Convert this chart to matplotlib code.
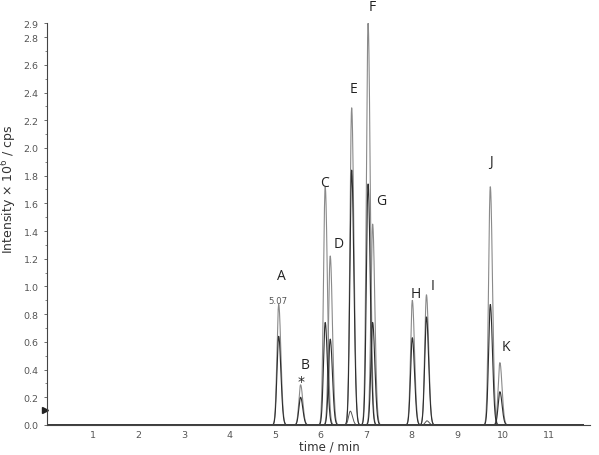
import numpy as np
import matplotlib
matplotlib.use("Agg")
import matplotlib.pyplot as plt

# peak table
labels = ["A", "B", "C", "D", "E", "F", "G", "H", "I", "J", "K"]
rt = [5.08, 5.56, 6.10, 6.21, 6.68, 7.04, 7.14, 8.01, 8.32, 9.72, 9.93]
height_quan = [0.87, 0.29, 1.72, 1.22, 2.29, 2.90, 1.45, 0.90, 0.94, 1.72, 0.45]
height_qual = [0.64, 0.20, 0.74, 0.62, 1.84, 1.74, 0.74, 0.63, 0.78, 0.87, 0.24]

# small side peaks seen on the baseline
minor_rt = [6.65, 8.33]
minor_height = [0.10, 0.03]

# label positions (time, intensity)
label_x = [5.13, 5.66, 6.09, 6.40, 6.73, 7.14, 7.32, 8.08, 8.45, 9.74, 10.07]
label_y = [1.08, 0.44, 1.75, 1.31, 2.43, 3.02, 1.62, 0.95, 1.01, 1.90, 0.57]

t = np.linspace(0, 11.75, 6000)


def peak(center, h, sl=0.038, sr=0.048):
    s = np.where(t < center, sl, sr)
    return h * np.exp(-0.5 * ((t - center) / s) ** 2)


fig = plt.figure(figsize=(5.99, 4.56), dpi=100)
ax = fig.add_axes([0.0785, 0.0658, 0.906, 0.881])

# one trace per compound and ion
for c, h in zip(rt, height_quan):
    ax.plot(t, peak(c, h), color="#8a8a8a", lw=0.8)
for c, h in zip(rt, height_qual):
    ax.plot(t, peak(c, h), color="#2e2e2e", lw=0.8)
for c, h in zip(minor_rt, minor_height):
    ax.plot(t, peak(c, h), color="#555555", lw=0.7)
ax.plot(t, np.zeros_like(t), color="#333333", lw=0.8)

for lab, x, y in zip(labels, label_x, label_y):
    ax.text(x, y, lab, ha="center", va="center", fontsize=10,
            family="Open Sans", color="#222222", clip_on=False)
ax.text(5.07, 0.90, "5.07", ha="center", va="center", fontsize=6.2, color="#555555")
ax.text(5.57, 0.32, "*", ha="center", va="center", fontsize=10, color="#222222")

ax.set_xlim(0, 11.9)
ax.set_ylim(0, 2.9)
ax.set_xticks(range(1, 12))
ax.set_yticks(list(np.round(np.arange(0, 2.81, 0.2), 1)) + [2.9])
ax.set_yticks(np.arange(0, 2.9, 0.1), minor=True)
ax.yaxis.set_major_formatter(matplotlib.ticker.FormatStrFormatter("%.1f"))
ax.tick_params(labelsize=6.8, colors="#555555", length=2.5, width=0.6)
ax.tick_params(which="minor", length=1.5, width=0.5, colors="#555555")
ax.tick_params(axis="x", length=0)
for side in ["top", "right"]:
    ax.spines[side].set_visible(False)
for side in ["left", "bottom"]:
    ax.spines[side].set_color("#444444")
    ax.spines[side].set_linewidth(0.8)

ax.set_xlabel("time / min", fontsize=8.5, color="#333333", labelpad=2)
ax.xaxis.set_label_coords(0.52, -0.035)
fig.text(0.016, 0.585, "Intensity × 10$^6$ / cps", rotation=90, ha="center",
         va="center", fontsize=9, color="#333333")

# marker on the y axis
ax.plot([-0.05], [0.11], marker=">", color="#222222", ms=5, clip_on=False)

fig.savefig("out.png", dpi=100)
